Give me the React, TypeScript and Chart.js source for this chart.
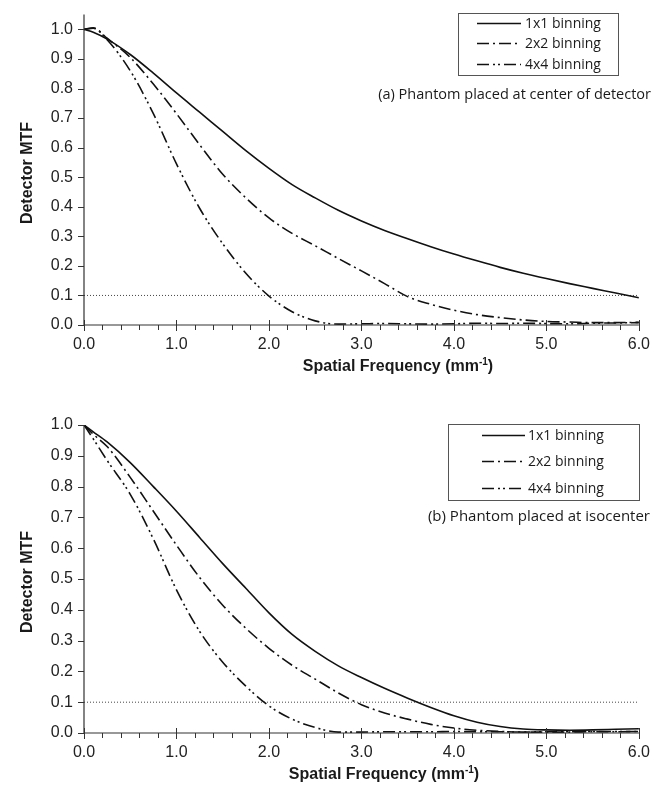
import React, { useEffect, useRef } from "react";
import { Chart, registerables } from "chart.js";

Chart.register(...registerables);

// ---------- data ----------
const freq = [0, 0.1, 0.25, 0.5, 0.75, 1.0, 1.25, 1.5, 1.75, 2.0, 2.25, 2.5, 2.75, 3.0, 3.25, 3.5, 3.75, 4.0, 4.25, 4.5, 4.75, 5.0, 5.25, 5.5, 5.75, 6.0];

const seriesLabels = ["1x1 binning", "2x2 binning", "4x4 binning"];

// (a) Phantom placed at center of detector
const centerMtf1x1 = [1.0, 0.99, 0.967, 0.915, 0.852, 0.785, 0.72, 0.655, 0.59, 0.53, 0.475, 0.43, 0.388, 0.352, 0.32, 0.292, 0.265, 0.24, 0.217, 0.195, 0.175, 0.157, 0.14, 0.124, 0.108, 0.092];
const centerMtf2x2 = [1.0, 1.005, 0.97, 0.905, 0.815, 0.715, 0.61, 0.51, 0.43, 0.362, 0.31, 0.268, 0.225, 0.183, 0.14, 0.096, 0.07, 0.05, 0.035, 0.025, 0.017, 0.012, 0.01, 0.008, 0.008, 0.009];
const centerMtf4x4 = [1.0, 1.004, 0.965, 0.86, 0.715, 0.545, 0.395, 0.275, 0.175, 0.098, 0.045, 0.014, 0.003, 0.004, 0.005, 0.004, 0.003, 0.004, 0.006, 0.005, 0.006, 0.005, 0.004, 0.006, 0.007, 0.008];

// (b) Phantom placed at isocenter
const isoMtf1x1 = [1.0, 0.978, 0.945, 0.878, 0.8, 0.72, 0.635, 0.55, 0.47, 0.39, 0.32, 0.265, 0.218, 0.18, 0.145, 0.113, 0.083, 0.056, 0.035, 0.021, 0.013, 0.01, 0.009, 0.01, 0.012, 0.014];
const isoMtf2x2 = [1.0, 0.97, 0.93, 0.83, 0.72, 0.61, 0.505, 0.415, 0.34, 0.275, 0.22, 0.175, 0.13, 0.092, 0.065, 0.045, 0.028, 0.016, 0.009, 0.005, 0.003, 0.003, 0.003, 0.004, 0.004, 0.005];
const isoMtf4x4 = [1.0, 0.955, 0.885, 0.775, 0.63, 0.465, 0.33, 0.23, 0.152, 0.088, 0.045, 0.018, 0.003, 0.003, 0.004, 0.004, 0.004, 0.005, 0.004, 0.004, 0.003, 0.004, 0.004, 0.005, 0.005, 0.005];

// 10% MTF reference line
const thresholdFreq = [0, 6];
const thresholdLevel = [0.1, 0.1];

// tick labels / tick marks
const xTickValues = [0, 1, 2, 3, 4, 5, 6];
const xTickMarks = [0, 0.2, 0.4, 0.6, 0.8, 1.0, 1.2, 1.4, 1.6, 1.8, 2.0, 2.2, 2.4, 2.6, 2.8, 3.0, 3.2, 3.4, 3.6, 3.8, 4.0, 4.2, 4.4, 4.6, 4.8, 5.0, 5.2, 5.4, 5.6, 5.8, 6.0];
const yTickValues = [0, 0.1, 0.2, 0.3, 0.4, 0.5, 0.6, 0.7, 0.8, 0.9, 1.0];

const xTitle = "Spatial Frequency (mm";
const xTitleSup = "-1";
const yTitle = "Detector MTF";

// ---------- layout / style ----------
const LINE_DASHES: number[][] = [[], [12, 4, 2, 4], [12, 4, 2, 3, 2, 4]];
const SANS = '"Liberation Sans", Arial, sans-serif';
const NOTE_FONT = '"Open Sans", "Noto Sans", sans-serif';

const panels = [
  {
    id: "a",
    series: [centerMtf1x1, centerMtf2x2, centerMtf4x4],
    note: "(a) Phantom placed at center of detector",
    noteSize: 14.5,
    top: 0,
    height: 395,
    yMax: 1.05,
    padTop: 14,
    xAxisHeight: 70,
    legendBox: [458, 13, 160, 62],
    legendRows: [23, 43, 64],
    sampleX: [477, 521],
    textX: 525,
    noteRight: 651,
    noteY: 95,
    xTitleX: 398,
    xTitleY: 367,
    yTitleY: 173,
  },
  {
    id: "b",
    series: [isoMtf1x1, isoMtf2x2, isoMtf4x4],
    note: "(b) Phantom placed at isocenter",
    noteSize: 15,
    top: 395,
    height: 392,
    yMax: 1.0,
    padTop: 30,
    xAxisHeight: 54,
    legendBox: [448, 29, 191, 76],
    legendRows: [40, 66, 93],
    sampleX: [482, 525],
    textX: 528,
    noteRight: 650,
    noteY: 122,
    xTitleX: 384,
    xTitleY: 380,
    yTitleY: 187,
  },
];

function makeDecor(panel: any) {
  return {
    id: "decor_" + panel.id,
    afterDraw(chart: any) {
      const { ctx, chartArea } = chart;
      const xs = chart.scales.x;
      const ys = chart.scales.y;
      ctx.save();
      // axis lines
      ctx.strokeStyle = "#333";
      ctx.lineWidth = 1.2;
      ctx.setLineDash([]);
      ctx.beginPath();
      ctx.moveTo(chartArea.left, chartArea.top);
      ctx.lineTo(chartArea.left, chartArea.bottom);
      ctx.lineTo(chartArea.right, chartArea.bottom);
      ctx.stroke();
      // x tick marks
      ctx.lineWidth = 1;
      for (const v of xTickMarks) {
        const px = Math.round(xs.getPixelForValue(v)) + 0.5;
        const major = Math.abs(v - Math.round(v)) < 1e-6;
        ctx.beginPath();
        ctx.moveTo(px, chartArea.bottom + (major ? -5 : 0));
        ctx.lineTo(px, chartArea.bottom + (major ? 6 : 5));
        ctx.stroke();
      }
      // y tick marks
      for (const v of yTickValues) {
        const py = Math.round(ys.getPixelForValue(v)) + 0.5;
        ctx.beginPath();
        ctx.moveTo(chartArea.left - 6, py);
        ctx.lineTo(chartArea.left, py);
        ctx.stroke();
      }
      // x title with superscript
      ctx.fillStyle = "#1a1a1a";
      ctx.textBaseline = "middle";
      ctx.textAlign = "left";
      const big = `bold 16px ${SANS}`;
      const small = `bold 10px ${SANS}`;
      ctx.font = big;
      const w1 = ctx.measureText(xTitle).width;
      const w3 = ctx.measureText(")").width;
      ctx.font = small;
      const w2 = ctx.measureText(xTitleSup).width;
      let sx = panel.xTitleX - (w1 + w2 + w3) / 2;
      ctx.font = big;
      ctx.fillText(xTitle, sx, panel.xTitleY);
      sx += w1;
      ctx.font = small;
      ctx.fillText(xTitleSup, sx, panel.xTitleY - 5);
      sx += w2;
      ctx.font = big;
      ctx.fillText(")", sx, panel.xTitleY);
      // y title
      ctx.save();
      ctx.translate(28, panel.yTitleY);
      ctx.rotate(-Math.PI / 2);
      ctx.textAlign = "center";
      ctx.font = big;
      ctx.fillText(yTitle, 0, 0);
      ctx.restore();
      // legend box
      const [bx, by, bw, bh] = panel.legendBox;
      ctx.strokeStyle = "#555";
      ctx.lineWidth = 1;
      ctx.strokeRect(bx + 0.5, by + 0.5, bw, bh);
      ctx.font = `14px ${NOTE_FONT}`;
      ctx.textAlign = "left";
      const ds = chart.data.datasets;
      for (let i = 0; i < 3; i++) {
        const ry = panel.legendRows[i] + 0.5;
        ctx.strokeStyle = "#111";
        ctx.lineWidth = 1.6;
        ctx.setLineDash(LINE_DASHES[i]);
        ctx.beginPath();
        ctx.moveTo(panel.sampleX[0], ry);
        ctx.lineTo(panel.sampleX[1], ry);
        ctx.stroke();
        ctx.setLineDash([]);
        ctx.fillStyle = "#1a1a1a";
        ctx.fillText(ds[i].label, panel.textX, panel.legendRows[i] + 1);
      }
      // note
      ctx.font = `${panel.noteSize}px ${NOTE_FONT}`;
      ctx.textAlign = "right";
      ctx.fillText(panel.note, panel.noteRight, panel.noteY);
      ctx.restore();
    },
  };
}

function PanelChart({ panel }: { panel: any }) {
  const ref = useRef<HTMLCanvasElement | null>(null);
  useEffect(() => {
    if (!ref.current) return;
    const datasets: any[] = panel.series.map((vals: number[], i: number) => ({
      label: seriesLabels[i],
      data: freq.map((f, j) => ({ x: f, y: vals[j] })),
      showLine: true,
      borderColor: "#111",
      borderWidth: 1.6,
      borderDash: LINE_DASHES[i],
      pointRadius: 0,
      cubicInterpolationMode: "monotone",
      fill: false,
    }));
    datasets.push({
      label: "MTF 0.1",
      data: thresholdFreq.map((f, j) => ({ x: f, y: thresholdLevel[j] })),
      showLine: true,
      borderColor: "#444",
      borderWidth: 1,
      borderDash: [1, 2],
      pointRadius: 0,
      fill: false,
    });
    const tickFont = { family: SANS, size: 16 };
    const chart = new Chart(ref.current, {
      type: "scatter",
      data: { datasets },
      options: {
        animation: false,
        responsive: false,
        maintainAspectRatio: false,
        layout: { padding: { top: panel.padTop, right: 15, left: 0, bottom: 0 } },
        plugins: { legend: { display: false }, tooltip: { enabled: false } },
        scales: {
          x: {
            type: "linear",
            min: 0,
            max: 6,
            grid: { display: false, drawTicks: true, tickLength: 6 },
            border: { display: false },
            ticks: {
              font: tickFont,
              color: "#222",
              padding: 4,
              autoSkip: false,
              maxRotation: 0,
              callback: (v: any) => Number(v).toFixed(1),
            },
            afterBuildTicks: (s: any) => {
              s.ticks = xTickValues.map((v) => ({ value: v }));
            },
            afterFit: (s: any) => {
              s.height = panel.xAxisHeight;
            },
          },
          y: {
            type: "linear",
            min: 0,
            max: panel.yMax,
            grid: { display: false, drawTicks: true, tickLength: 6 },
            border: { display: false },
            ticks: {
              font: tickFont,
              color: "#222",
              padding: 5,
              autoSkip: false,
              callback: (v: any) => Number(v).toFixed(1),
            },
            afterBuildTicks: (s: any) => {
              s.ticks = yTickValues.map((v) => ({ value: v }));
            },
            afterFit: (s: any) => {
              s.width = 84;
            },
          },
        },
      } as any,
      plugins: [makeDecor(panel)],
    });
    return () => chart.destroy();
  }, [panel]);
  return (
    <canvas
      ref={ref}
      width={654}
      height={panel.height}
      style={{ position: "absolute", left: 0, top: panel.top, width: 654, height: panel.height }}
    />
  );
}

export default function App() {
  return (
    <div style={{ position: "absolute", left: 0, top: 0, width: 654, height: 787, background: "#fff" }}>
      {panels.map((p) => (
        <PanelChart key={p.id} panel={p} />
      ))}
    </div>
  );
}
